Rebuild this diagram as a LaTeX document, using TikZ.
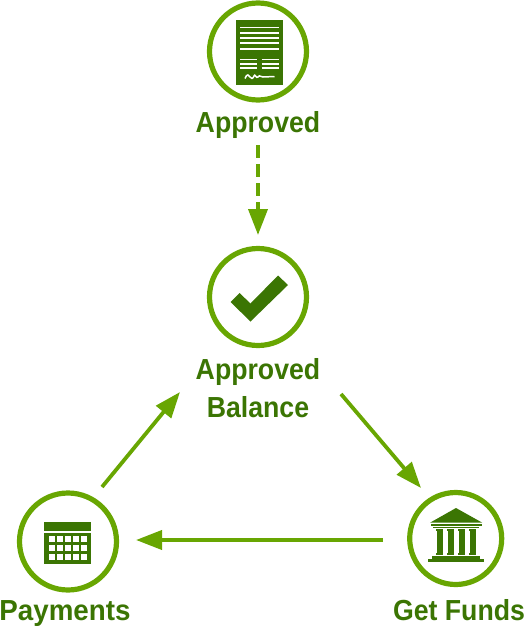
\documentclass[tikz,border=0pt]{standalone}
\usepackage{graphicx}
\usepackage{fontspec}
\setmainfont[FakeStretch=0.92]{Liberation Sans}
\usetikzlibrary{arrows.meta}
\definecolor{ring}{HTML}{68A602}
\definecolor{dark}{HTML}{3B7503}
\tikzset{
  x=1pt,y=-1pt,
  ringnode/.style={circle,draw=ring,line width=5.2pt,minimum size=97pt,inner sep=0pt},
  lab/.style={text=dark,font=\fontsize{29}{37.5}\selectfont\bfseries,align=center,inner sep=0pt},
  flow/.style={draw=ring,line width=3.8pt,-{Triangle[width=19pt,length=26pt]},shorten >=0pt},
  paper/.style={draw=white,line width=1.9pt},
}
\begin{document}
\begin{tikzpicture}
\useasboundingbox (0,0) rectangle (525,627);
\node[ringnode] (top) at (258,51.5) {};
\node[ringnode] (mid) at (258,297) {};
\node[ringnode,minimum size=97pt] (pay) at (68,541.5) {};
\node[ringnode,minimum size=92pt] (fund) at (455.7,538.5) {};
\node[lab,anchor=base] (toplab) at (258,132.5) {Approved};
\node[lab,anchor=base] (midlab) at (258,379.5) {Approved};
\node[lab,anchor=base] (midlab2) at (258,417) {Balance};
\node[lab,anchor=base] (paylab) at (65,620.5) {\scalebox{1.04}[1]{Payments}};
\node[lab,anchor=base] (fundlab) at (459,620.5) {Get Funds};
\coordinate (a1) at (258,145); \coordinate (a2) at (258,235);
\coordinate (b1) at (102,487); \coordinate (b2) at (180,392);
\coordinate (c1) at (341,394); \coordinate (c2) at (421,488);
\coordinate (d1) at (383,540); \coordinate (d2) at (136,540);
\draw[flow,dash pattern=on 12.5pt off 6.5pt] (a1) -- (a2);
\draw[flow] (b1) -- (b2);
\draw[flow] (c1) -- (c2);
\draw[flow] (d1) -- (d2);
% document icon
\fill[dark] (235.7,20) rectangle (283.3,85);
\foreach \y in {27.5,32.8,38.1,43.4,48.7} \draw[paper] (240,\y) -- (279,\y);
\foreach \y in {59.5,64,68} {\draw[paper] (240,\y) -- (256.7,\y); \draw[paper] (261.7,\y) -- (279,\y);}
\draw[white,line width=1.5pt] (245,78.5) .. controls (247,73) and (249,75) .. (250,77) .. controls (251,79) and (253,79) .. (254,76) .. controls (255,73) and (256,79) .. (258,77) .. controls (260,74) and (261,78) .. (263,77) -- (274.5,76.5);
% check icon
\fill[dark] (230.5,302) -- (239.5,293) -- (250.5,303.5) -- (278,275.5) -- (288,285) -- (250.5,321.5) -- cycle;
% calendar icon
\fill[dark] (44.3,522) rectangle (90.7,530.7);
\fill[dark] (44.3,533.3) rectangle (90.7,563.5);
\foreach \c in {0,...,4} \foreach \r in {0,1,2}
  \fill[white] ({49+\c*8.0},{536+\r*8.9}) rectangle ++(5.8,6);
% bank icon
\fill[dark] (430,522.7) -- (456,508) -- (482.3,522.7) -- cycle;
\fill[dark] (430.5,524) rectangle (481.5,526);
\fill[dark] (433,526.6) rectangle (479,528.2);
\foreach \x in {439.5,450.7,461.7,472.5} {
  \fill[dark] ({\x-3.6},529) rectangle ({\x+3.6},531.2);
  \fill[dark] ({\x-3},531) rectangle ({\x+3},553);
  \fill[dark] ({\x-3.6},552.7) rectangle ({\x+3.6},555);
}
\fill[dark] (432.3,556) rectangle (480,559);
\fill[dark] (428,559) rectangle (484,561.7);
\end{tikzpicture}
\end{document}
